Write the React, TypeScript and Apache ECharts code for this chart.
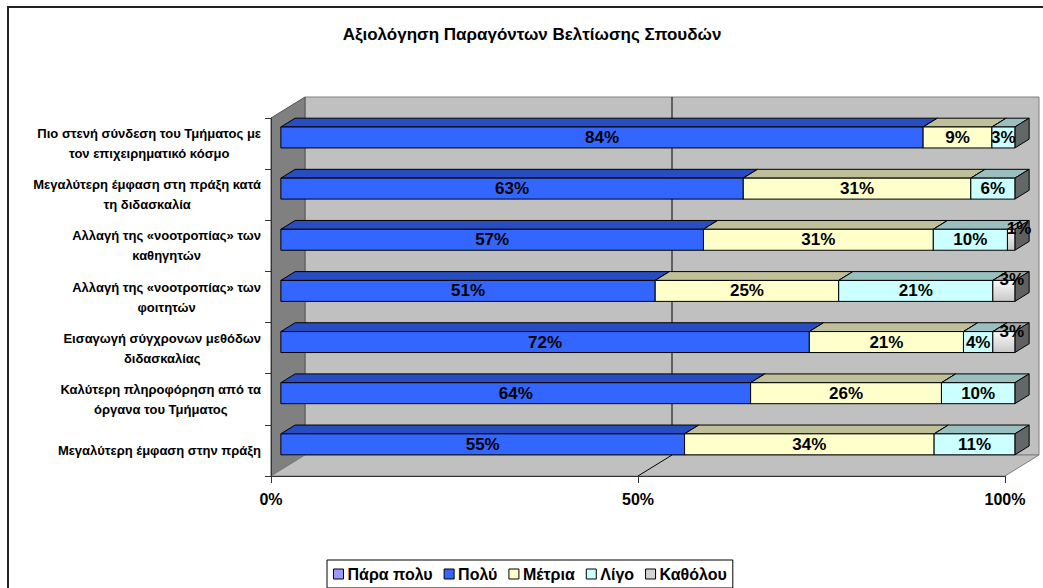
import React, { useEffect, useRef } from "react";
import * as echarts from "echarts";

const chartTitle = "Αξιολόγηση Παραγόντων Βελτίωσης Σπουδών";
const categories = [
  "Πιο στενή σύνδεση του Τμήματος με\nτον επιχειρηματικό κόσμο",
  "Μεγαλύτερη έμφαση στη πράξη κατά\nτη διδασκαλία",
  "Αλλαγή της «νοοτροπίας» των\nκαθηγητών",
  "Αλλαγή της «νοοτροπίας» των\nφοιτητών",
  "Εισαγωγή σύγχρονων μεθόδων\nδιδασκαλίας",
  "Καλύτερη πληροφόρηση από τα\nόργανα του Τμήματος",
  "Μεγαλύτερη έμφαση στην πράξη",
];
const seriesNames = ["Πάρα πολυ", "Πολύ", "Μέτρια", "Λίγο", "Καθόλου"];
const paraPolu = [0, 0, 0, 0, 0, 0, 0];
const polu = [84, 63, 57, 51, 72, 64, 55];
const metria = [9, 31, 31, 25, 21, 26, 34];
const ligo = [3, 6, 10, 21, 4, 10, 11];
const katholou = [0, 0, 1, 3, 3, 0, 0];
const gridValues = [50];

const FONT = 'Arial, "Liberation Sans", sans-serif';
const LABEL_FONT = 'Arial, "Liberation Sans", sans-serif';

const frontColors = ["#9999FF", "#3366FF", "#FFFFCC", "#CCFFFF", "#E4E4E4"];
const topColors = ["#7373BF", "#284DC0", "#BFBF99", "#99BFBF", "#A8A8A8"];
const sideColors = ["#4D4D80", "#1A3380", "#80806A", "#626868", "#606060"];
const labelOffsets = [
  [0, 0],
  [0, 0],
  [0, 0],
  [0, 0],
  [8, -11],
];

// 3D geometry (pixels)
const DEPTH_X = 34;
const DEPTH_Y = -21;
const BAR_FRONT = 0.29;
const BAR_BACK = 0.71;
const BAR_FRAC = 0.41;

const seriesValues = [paraPolu, polu, metria, ligo, katholou];
const rowTotals = categories.map((_, i) =>
  seriesValues.reduce((s, arr) => s + arr[i], 0)
);
const stackedData = seriesValues.map((arr, k) =>
  arr.map((v, i) => {
    const before = seriesValues.slice(0, k).reduce((s, a) => s + a[i], 0);
    return [
      (before / rowTotals[i]) * 100,
      ((before + v) / rowTotals[i]) * 100,
      i,
      v,
    ];
  })
);

const makeBarRender = (k: number) => (params: any, api: any) => {
  const start = api.value(0);
  const end = api.value(1);
  const row = api.value(2);
  const raw = api.value(3);
  if (!(end > start)) return null;
  const p0 = api.coord([start, row]);
  const p1 = api.coord([end, row]);
  const band = api.size([0, 1])[1];
  const h = band * BAR_FRAC;
  const fx = DEPTH_X * BAR_FRONT;
  const fy = DEPTH_Y * BAR_FRONT;
  const bx = DEPTH_X * (BAR_BACK - BAR_FRONT);
  const by = DEPTH_Y * (BAR_BACK - BAR_FRONT);
  const x0 = p0[0] + fx;
  const x1 = p1[0] + fx;
  const yT = p0[1] - h / 2 + fy;
  const yB = yT + h;
  const stroke = { stroke: "#000", lineWidth: 1 };
  const frontFill =
    k === 4
      ? new echarts.graphic.LinearGradient(0, 0, 0, 1, [
          { offset: 0, color: "#FAFAFA" },
          { offset: 1, color: "#C8C8C8" },
        ])
      : frontColors[k];
  return {
    type: "group",
    children: [
      {
        type: "polygon",
        shape: {
          points: [
            [x0, yT],
            [x0 + bx, yT + by],
            [x1 + bx, yT + by],
            [x1, yT],
          ],
        },
        style: { fill: topColors[k], ...stroke },
      },
      {
        type: "polygon",
        shape: {
          points: [
            [x1, yT],
            [x1 + bx, yT + by],
            [x1 + bx, yB + by],
            [x1, yB],
          ],
        },
        style: { fill: sideColors[k], ...stroke },
      },
      {
        type: "rect",
        shape: { x: x0, y: yT, width: x1 - x0, height: h },
        style: { fill: frontFill, ...stroke },
      },
      {
        type: "text",
        z2: 100,
        x: (x0 + x1) / 2 + labelOffsets[k][0],
        y: (yT + yB) / 2 + labelOffsets[k][1],
        style: {
          text: raw + "%",
          align: "center",
          verticalAlign: "middle",
          fontSize: 17,
          fontWeight: "bold",
          fontFamily: LABEL_FONT,
          fill: "#000",
        },
      },
    ],
  };
};

const wallsRender = (params: any, api: any) => {
  const cs = params.coordSys;
  const x = cs.x;
  const y = cs.y;
  const w = cs.width;
  const h = cs.height;
  const children: any[] = [
    {
      type: "rect",
      shape: { x: x + DEPTH_X, y: y + DEPTH_Y, width: w, height: h },
      style: { fill: "#C0C0C0", stroke: "#808080", lineWidth: 1 },
    },
    {
      type: "polygon",
      shape: {
        points: [
          [x, y],
          [x + DEPTH_X, y + DEPTH_Y],
          [x + DEPTH_X, y + h + DEPTH_Y],
          [x, y + h],
        ],
      },
      style: { fill: "#808080", stroke: "#555", lineWidth: 1 },
    },
    {
      type: "polygon",
      shape: {
        points: [
          [x, y + h],
          [x + DEPTH_X, y + h + DEPTH_Y],
          [x + w + DEPTH_X, y + h + DEPTH_Y],
          [x + w, y + h],
        ],
      },
      style: { fill: "#C0C0C0", stroke: "#808080", lineWidth: 1 },
    },
  ];
  gridValues.forEach((g) => {
    const gx = api.coord([g, 0])[0];
    children.push({
      type: "line",
      shape: { x1: gx + DEPTH_X, y1: y + DEPTH_Y, x2: gx + DEPTH_X, y2: y + h + DEPTH_Y },
      style: { stroke: "#000", lineWidth: 1 },
    });
    children.push({
      type: "line",
      shape: { x1: gx, y1: y + h, x2: gx + DEPTH_X, y2: y + h + DEPTH_Y },
      style: { stroke: "#000", lineWidth: 1 },
    });
  });
  return { type: "group", children };
};

export default function App() {
  const ref = useRef<HTMLDivElement>(null);
  useEffect(() => {
    if (!ref.current) return;
    const chart = echarts.init(ref.current, undefined, { renderer: "svg" });
    const barSeries = seriesNames.map((name, k) => ({
      type: "custom",
      name,
      z: 2,
      itemStyle: { color: k === 4 ? "#D4D4D4" : frontColors[k] },
      data: stackedData[k],
      encode: { x: [0, 1], y: 2 },
      renderItem: makeBarRender(k),
    }));
    chart.setOption({
      animation: false,
      backgroundColor: "#fff",
      title: {
        text: chartTitle,
        left: 532,
        top: 26,
        padding: 0,
        textAlign: "center",
        textStyle: {
          fontSize: 17,
          fontWeight: "bold",
          fontFamily: FONT,
          color: "#000",
        },
      },
      graphic: [
        {
          type: "rect",
          silent: true,
          shape: { x: 8, y: 7, width: 1300, height: 900 },
          style: { fill: "none", stroke: "#222", lineWidth: 2 },
        },
      ],
      legend: {
        data: seriesNames,
        left: 327,
        top: 560,
        padding: [6, 6, 6, 6],
        borderColor: "#000",
        borderWidth: 1,
        itemGap: 11,
        itemWidth: 10,
        itemHeight: 10,
        icon: "rect",
        itemStyle: { borderColor: "#000", borderWidth: 1 },
        textStyle: {
          fontSize: 16,
          fontWeight: "bold",
          fontFamily: FONT,
          color: "#000",
          padding: [0, 0, 0, -1],
        },
      },
      grid: { left: 271, top: 118, width: 734, height: 358, containLabel: false },
      xAxis: {
        type: "value",
        min: 0,
        max: 100,
        interval: 50,
        z: 1,
        axisLine: { show: true, lineStyle: { color: "#333", width: 1 } },
        axisTick: { show: true, length: 7, lineStyle: { color: "#333" } },
        splitLine: { show: false },
        axisLabel: {
          formatter: "{value}%",
          margin: 15,
          fontSize: 16,
          fontWeight: "bold",
          fontFamily: FONT,
          color: "#000",
        },
      },
      yAxis: {
        type: "category",
        data: categories,
        inverse: true,
        z: 1,
        axisLine: { show: true, lineStyle: { color: "#333", width: 1 } },
        axisTick: { show: true, length: 6, lineStyle: { color: "#333" } },
        splitLine: { show: false },
        axisLabel: {
          interval: 0,
          margin: 10,
          formatter: (v: string) =>
            v
              .split("\n")
              .map((l) => `{c|${l}}`)
              .join("\n"),
          rich: {
            c: {
              align: "center",
              fontSize: 13,
              fontWeight: "bold",
              fontFamily: FONT,
              color: "#000",
              lineHeight: 20,
            },
          },
        },
      },
      series: [
        {
          type: "custom",
          name: "walls",
          z: 0,
          silent: true,
          data: [[0, 0]],
          encode: { x: 0, y: 1 },
          renderItem: wallsRender,
        },
        ...barSeries,
      ],
    });
    return () => chart.dispose();
  }, []);
  return (
    <div
      ref={ref}
      style={{ position: "fixed", left: 0, top: 0, width: 1043, height: 588, background: "#fff" }}
    />
  );
}
